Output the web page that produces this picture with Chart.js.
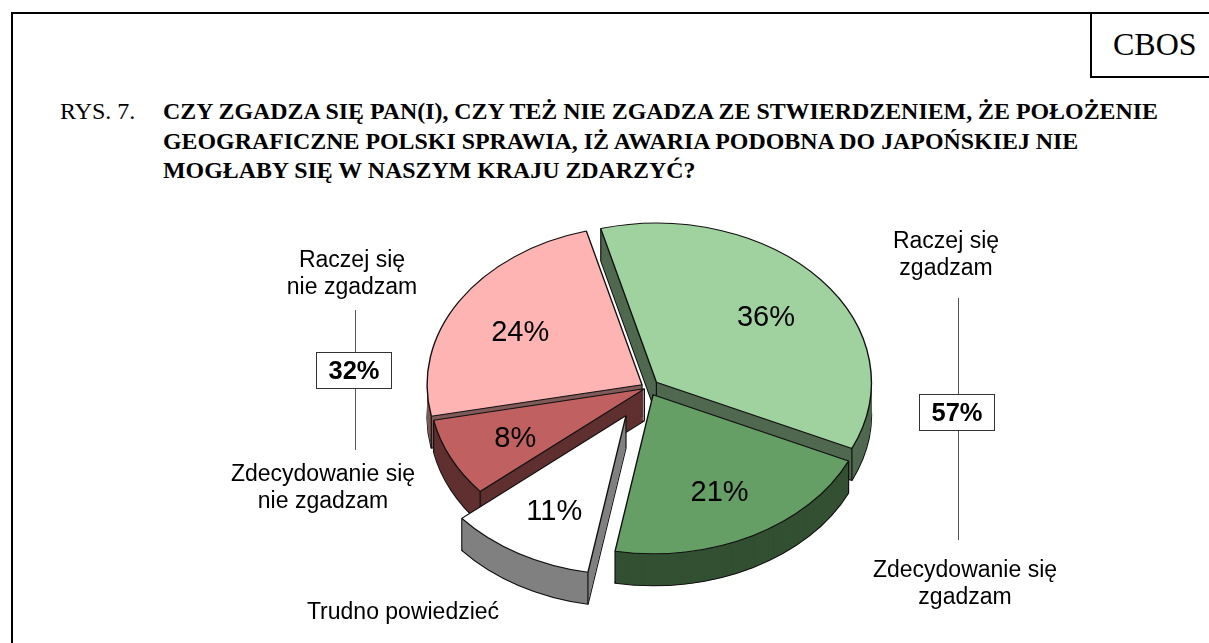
<!DOCTYPE html>
<html lang="pl">
<head>
<meta charset="utf-8">
<title>RYS. 7</title>
<script src="https://cdn.jsdelivr.net/npm/chart.js@4"></script>
<style>
  html, body { margin: 0; padding: 0; background: #fff; }
  #page { position: relative; width: 1209px; height: 643px; overflow: hidden; }
  #frame { position: absolute; left: 11px; top: 12px; width: 1198px; height: 631px; border-left: 2px solid #000; border-top: 2px solid #000; box-sizing: border-box; }
  #cbos { position: absolute; left: 1090px; top: 12px; width: 119px; height: 66px; border-left: 2px solid #000; border-bottom: 2px solid #000; border-top: 2px solid #000; box-sizing: border-box; font: 32px "Liberation Serif", serif; line-height: 60px; padding-left: 21px; }
  .rys { position: absolute; left: 60px; top: 97px; font: 24px/29.5px "Liberation Serif", serif; white-space: nowrap; }
  .title { position: absolute; left: 163px; top: 97px; font: bold 23.9px/29.5px "Liberation Serif", serif; white-space: nowrap; }
  canvas { position: absolute; left: 0; top: 0; }
</style>
</head>
<body>
<div id="page">
  <div id="frame"></div>
  <div id="cbos">CBOS</div>
  <div class="rys">RYS. 7.</div>
  <div class="title" id="title"></div>
  <canvas id="pie" width="1209" height="643"></canvas>
</div>
<script>
const titleLines = [
  "CZY ZGADZA SIĘ PAN(I), CZY TEŻ NIE ZGADZA ZE STWIERDZENIEM, ŻE POŁOŻENIE",
  "GEOGRAFICZNE POLSKI SPRAWIA, IŻ AWARIA PODOBNA DO JAPOŃSKIEJ NIE",
  "MOGŁABY SIĘ W NASZYM KRAJU ZDARZYĆ?",
];
const categories = ["Raczej się zgadzam", "Zdecydowanie się zgadzam", "Trudno powiedzieć", "Zdecydowanie się nie zgadzam", "Raczej się nie zgadzam"];
const values = [36, 21, 11, 8, 24];
const totals = ["57%", "32%"];

const topColors = ["#a0d2a0", "#669f66", "#ffffff", "#c06060", "#ffb4b4"];
const wallColors = ["#506950", "#335033", "#808080", "#603030", "#805a5a"];
const explode = [11, 11, 44, 4, 7];
const drawOrder = [4, 0, 3, 1, 2];

const tilt = 0.74;
const depth = 32;

document.getElementById("title").innerHTML = titleLines.join("<br>");

// outside labels, one entry per category: center x, first baseline y, lines
const outsideLabels = [
  { x: 946, y: 248, lines: ["Raczej się", "zgadzam"] },
  { x: 965, y: 577, lines: ["Zdecydowanie się", "zgadzam"] },
  { x: 403, y: 619, lines: ["Trudno powiedzieć"] },
  { x: 323, y: 481, lines: ["Zdecydowanie się", "nie zgadzam"] },
  { x: 352, y: 267, lines: ["Raczej się", "nie zgadzam"] },
];
const brackets = [
  { x: 958, y1: 298, y2: 540, boxY: 394 },
  { x: 355, y1: 310, y2: 450, boxY: 352 },
];

const pie3d = {
  id: "pie3d",
  beforeDatasetsDraw(chart) {
    const ctx = chart.ctx;
    const arcs = chart.getDatasetMeta(0).data;

    drawOrder.forEach((i) => {
      const arc = arcs[i];
      const mid = (arc.startAngle + arc.endAngle) / 2;
      const dx = Math.cos(mid) * explode[i];
      const dy = Math.sin(mid) * explode[i];

      const drawAt = (lift, fill, border) => {
        const copy = Object.create(arc);
        copy.options = { ...arc.options, offset: 0, backgroundColor: fill, borderWidth: border };
        ctx.save();
        ctx.translate(arc.x + dx, arc.y + dy * tilt + lift);
        ctx.scale(1, tilt);
        ctx.translate(-arc.x, -arc.y);
        copy.draw(ctx);
        ctx.restore();
      };

      // wall first, from the bottom up, then the lid
      drawAt(depth, wallColors[i], 1.4);
      for (let d = depth - 1; d > 0; d--) drawAt(d, wallColors[i], 0);

      // vertical edges of the wall
      const px = arc.x + dx;
      const py = arc.y + dy * tilt;
      const r = arc.outerRadius;
      ctx.strokeStyle = "#111";
      ctx.lineWidth = 1.2;
      [[0, 0],
       [Math.cos(arc.startAngle) * r, Math.sin(arc.startAngle) * r * tilt],
       [Math.cos(arc.endAngle) * r, Math.sin(arc.endAngle) * r * tilt]].forEach((p) => {
        ctx.beginPath();
        ctx.moveTo(px + p[0], py + p[1]);
        ctx.lineTo(px + p[0], py + p[1] + depth);
        ctx.stroke();
      });

      drawAt(0, topColors[i], 1.4);
    });
    return false; // arcs are done, skip the flat default draw
  },
  // afterDatasetsDraw does not fire once beforeDatasetsDraw returned false
  afterDraw(chart) {
    const ctx = chart.ctx;
    const arcs = chart.getDatasetMeta(0).data;

    ctx.save();
    ctx.fillStyle = "#000";
    ctx.textAlign = "center";
    ctx.textBaseline = "middle";

    // percent on each slice
    ctx.font = '29px "Liberation Sans", sans-serif';
    arcs.forEach((arc, i) => {
      const mid = (arc.startAngle + arc.endAngle) / 2;
      const dist = arc.outerRadius * 0.667 + explode[i];
      ctx.fillText(values[i] + "%", arc.x + Math.cos(mid) * dist, arc.y + Math.sin(mid) * dist * tilt + 4);
    });

    // category names
    ctx.textBaseline = "alphabetic";
    ctx.font = '23px "Liberation Sans", sans-serif';
    outsideLabels.forEach((l) => {
      l.lines.forEach((t, k) => ctx.fillText(t, l.x, l.y + k * 27));
    });

    // group totals with their lines
    brackets.forEach((b, i) => {
      ctx.strokeStyle = "#555";
      ctx.lineWidth = 1;
      ctx.beginPath();
      ctx.moveTo(b.x + 0.5, b.y1);
      ctx.lineTo(b.x + 0.5, b.y2);
      ctx.stroke();
      ctx.fillStyle = "#fff";
      ctx.fillRect(b.x - 39, b.boxY, 75, 36);
      ctx.strokeStyle = "#333";
      ctx.strokeRect(b.x - 38.5, b.boxY + 0.5, 75, 36);
      ctx.fillStyle = "#000";
      ctx.font = 'bold 25.5px "Liberation Sans", sans-serif';
      ctx.textBaseline = "middle";
      ctx.fillText(totals[i], b.x - 1, b.boxY + 20);
      ctx.textBaseline = "alphabetic";
    });
    ctx.restore();
  },
};

new Chart(document.getElementById("pie"), {
  type: "pie",
  data: {
    labels: categories,
    datasets: [{ data: values, backgroundColor: topColors, borderColor: "#111", borderWidth: 1, offset: explode }],
  },
  options: {
    responsive: false,
    animation: false,
    rotation: -15,
    layout: { padding: { left: 410, right: 323, top: 150, bottom: 18 } },
    plugins: { legend: { display: false }, tooltip: { enabled: false } },
  },
  plugins: [pie3d],
});
</script>
</body>
</html>
